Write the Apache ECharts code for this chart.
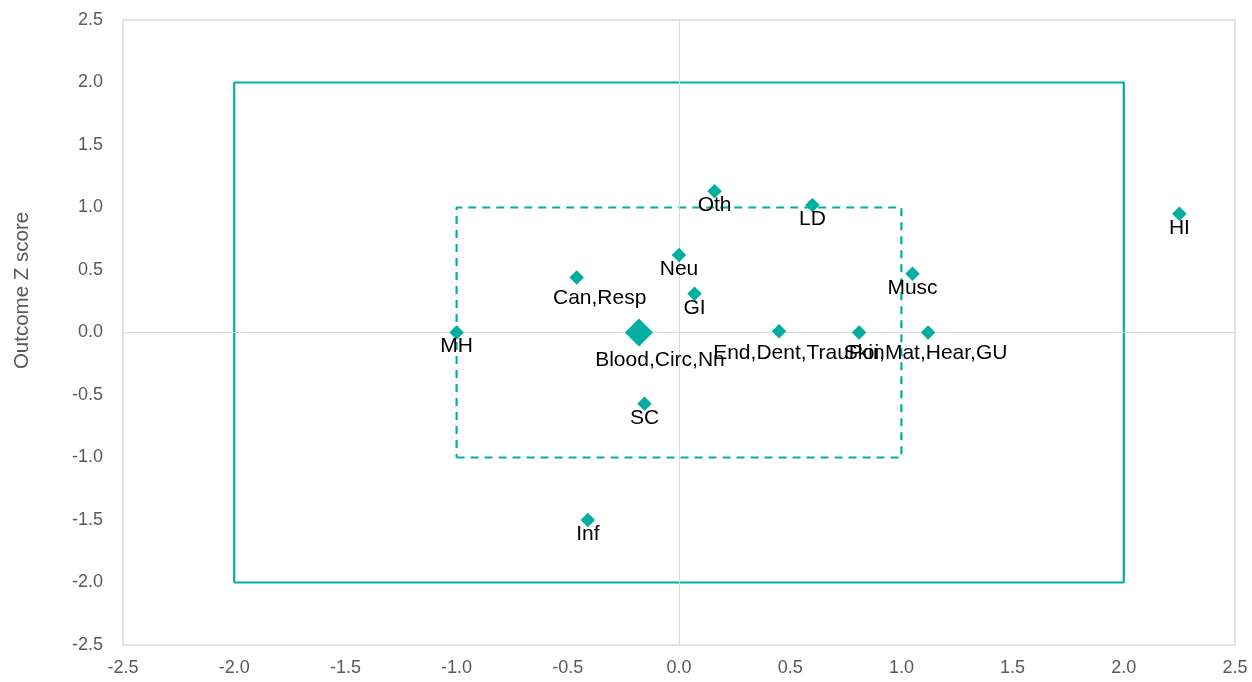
<!DOCTYPE html>
<html><head><meta charset="utf-8">
<script src="https://cdn.jsdelivr.net/npm/echarts@6/dist/echarts.min.js"></script>
<style>html,body{margin:0;padding:0;background:#fff}#c{width:1252px;height:682px}</style>
</head><body><div id="c"></div>
<script>
// ---- data ----
const pointNames = ['Oth','LD','HI','Neu','Can,Resp','GI','Musc','MH','Blood,Circ,Nn','End,Dent,Trau','Skin','Poi,Mat,Hear,GU','SC','Inf'];
const pointX = [0.16, 0.60, 2.25, 0.00, -0.46, 0.07, 1.05, -1.00, -0.18, 0.45, 0.81, 1.12, -0.155, -0.41];
const pointY = [1.13, 1.02, 0.95, 0.62, 0.44, 0.31, 0.47, 0.00, 0.00, 0.01, 0.00, 0.00, -0.57, -1.50];
const outerBoxX = [-2, 2, 2, -2, -2];
const outerBoxY = [-2, -2, 2, 2, -2];
const innerBoxX = [-1, 1, 1, -1, -1];
const innerBoxY = [-1, -1, 1, 1, -1];
const axisMin = -2.5, axisMax = 2.5, axisStep = 0.5;
const yAxisTitle = 'Outcome Z score';

// ---- styling (not data) ----
const teal = '#00AF9F';
const labelOffsets = {
  'Can,Resp': [23, 21],
  'Blood,Circ,Nn': [21, 28],
  'End,Dent,Trau': [2, 22],
  'Skin': [5, 21],
  'Poi,Mat,Hear,GU': [0, 21]
};
const bigSymbols = { 'Blood,Circ,Nn': 28 };

const pts = pointNames.map((n, i) => {
  const s = bigSymbols[n] || 14.5;
  const off = labelOffsets[n] || [0, 14];
  return {
    name: n,
    value: [pointX[i], pointY[i]],
    symbolSize: s,
    label: { position: [s / 2 + off[0], s / 2 + off[1]], align: 'center', verticalAlign: 'middle' }
  };
});

const chart = echarts.init(document.getElementById('c'), null, {renderer: 'canvas'});
const fmt = v => v.toFixed(1);
const ff = 'Liberation Sans, Arial';
chart.setOption({
  animation: false,
  backgroundColor: '#fff',
  grid: { left: 123, right: 17, top: 20, bottom: 37, show: true, borderColor: '#d9d9d9', borderWidth: 1.5 },
  xAxis: {
    type: 'value', min: axisMin, max: axisMax, interval: axisStep,
    axisLine: { show: false }, axisTick: { show: false }, splitLine: { show: false },
    axisLabel: { formatter: fmt, color: '#595959', fontSize: 18, fontFamily: ff, margin: 14 }
  },
  yAxis: {
    type: 'value', min: axisMin, max: axisMax, interval: axisStep,
    name: yAxisTitle, nameLocation: 'middle', nameGap: 90,
    nameTextStyle: { color: '#595959', fontSize: 20.5, fontFamily: ff, padding: [0, 0, 0, 84] },
    axisLine: { show: false }, axisTick: { show: false }, splitLine: { show: false },
    axisLabel: { formatter: fmt, color: '#595959', fontSize: 18, fontFamily: ff, margin: 20 }
  },
  series: [
    {
      type: 'line', data: [], z: 1, silent: true,
      markLine: {
        silent: true, symbol: 'none', label: { show: false }, animation: false,
        lineStyle: { color: '#d9d9d9', width: 1, type: 'solid' },
        data: [{ xAxis: 0 }, { yAxis: 0 }]
      }
    },
    {
      type: 'line', z: 2, silent: true, symbol: 'none',
      data: outerBoxX.map((x, i) => [x, outerBoxY[i]]),
      lineStyle: { color: teal, width: 2.2 }
    },
    {
      type: 'line', z: 2, silent: true, symbol: 'none',
      data: innerBoxX.map((x, i) => [x, innerBoxY[i]]),
      lineStyle: { color: teal, width: 2.2, type: [8, 6] }
    },
    {
      type: 'scatter', z: 5, symbol: 'diamond',
      itemStyle: { color: teal, opacity: 1 },
      label: {
        show: true, formatter: p => p.name,
        color: '#000', fontSize: 21, fontFamily: ff
      },
      labelLayout: { hideOverlap: false },
      data: pts
    }
  ]
});
</script></body></html>
